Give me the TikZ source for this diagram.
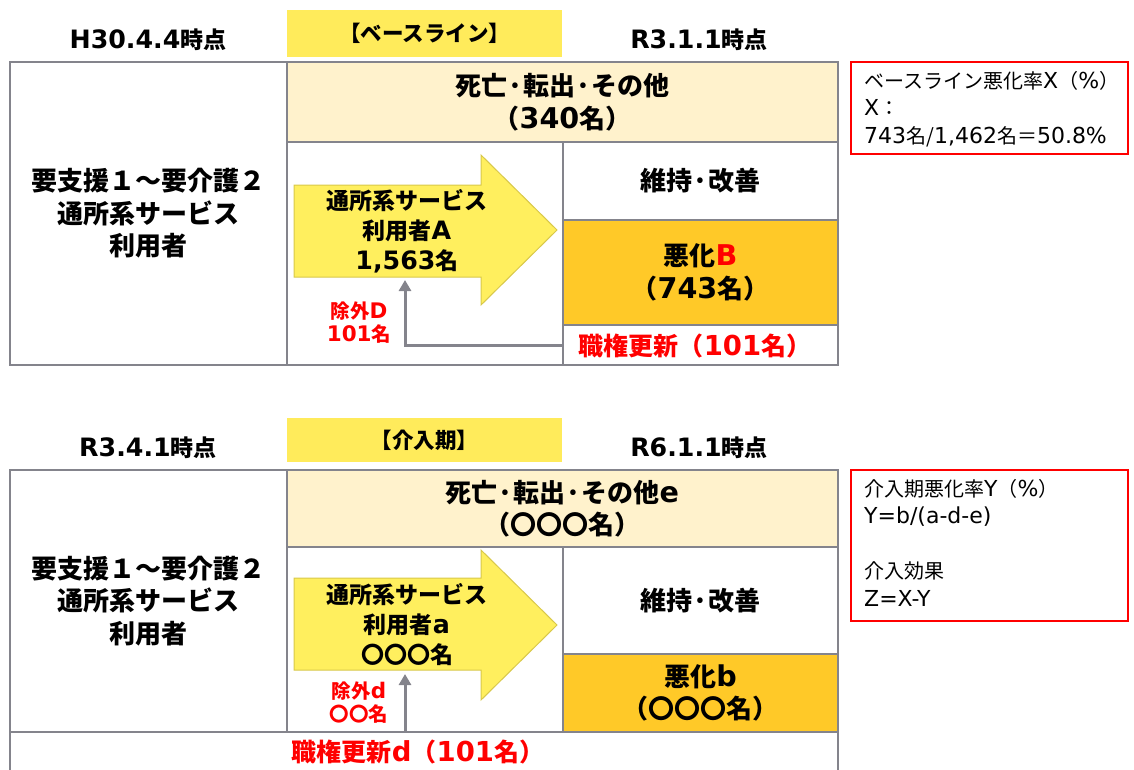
\documentclass[tikz,border=0pt]{standalone}
\usepackage{fontspec}
\setmainfont{Noto Sans CJK JP}
\newfontfamily\latfont{DejaVu Sans}[Scale=1.1]
\newcommand\Ltn[1]{{\latfont #1}}
\usetikzlibrary{arrows.meta}
\definecolor{bgray}{HTML}{84848C}
\definecolor{lblY}{HTML}{FFEB5B}
\definecolor{arrY}{HTML}{FFEF5E}
\definecolor{arrE}{HTML}{D8C84A}
\definecolor{beige}{HTML}{FFF2CC}
\definecolor{orng}{HTML}{FFC928}
\definecolor{rd}{HTML}{FF0000}
\begin{document}
\begin{tikzpicture}[x=1pt,y=-1pt,
  box/.style={draw=bgray, line width=2.6pt, anchor=north west, inner sep=0pt, outer sep=0pt, align=center, font=\bfseries\fontsize{26}{32.5}\selectfont},
  lbl/.style={fill=lblY, anchor=north west, inner sep=0pt, align=center, font=\bfseries\fontsize{21.5}{24}\selectfont},
  hd/.style={font=\bfseries\fontsize{23}{26}\selectfont, inner sep=0pt},
  arrtxt/.style={align=center, inner sep=0pt, font=\bfseries\fontsize{23}{30}\selectfont},
  redtxt/.style={text=rd, align=center, inner sep=0pt, font=\bfseries\fontsize{19.5}{23}\selectfont},
  redbig/.style={text=rd, inner sep=0pt, font=\bfseries\fontsize{25}{28}\selectfont},
  note/.style={draw=rd, line width=2.4pt, anchor=north west, inner sep=0pt, outer sep=0pt},
  notetxt/.style={anchor=north west, align=left, inner sep=0pt, font=\fontsize{20}{27.5}\selectfont},
  bigarrow/.style={fill=arrY, draw=arrE, line width=1pt},
  garrow/.style={draw=bgray, line width=3pt, -{Triangle[length=11pt,width=12pt]}}]
\useasboundingbox (0,0) rectangle (1134,769);
\clip (0,0) rectangle (1134,769);
% ===== top =====
\node[lbl, minimum width=275, minimum height=47] (lbl1) at (287,10) {【ベースライン】};
\node[hd] (hd1a) at (148,40) {\Ltn{H30.4.4}時点};
\node[hd] (hd1b) at (699,40) {\Ltn{R3.1.1}時点};
\node[box, minimum width=277, minimum height=303] (left1) at (10,62) {要支援１～要介護２\\通所系サービス\\利用者};
\node[box, minimum width=276, minimum height=223] (mid1) at (287,142) {};
\node[box, fill=beige, minimum width=551, minimum height=80] (dead1) at (287,62) {死亡·転出·その他\\（\Ltn{340}名）};
\node[box, minimum width=275, minimum height=78] (keep1) at (563,142) {維持·改善};
\node[box, fill=orng, minimum width=275, minimum height=105] (worse1) at (563,220) {悪化\textcolor{rd}{\Ltn{B}}\\（\Ltn{743}名）};
\node[box, minimum width=275, minimum height=40] (auth1) at (563,325) {};
\node[redbig] (auth1t) at (695,346) {職権更新（\Ltn{101}名）};
\draw[bigarrow] (294,185) -- (481,185) -- (481,155) -- (557,230) -- (481,305) -- (481,277) -- (294,277) -- cycle;
\node[arrtxt] (a1) at (407,231) {通所系サービス\\利用者\Ltn{A}\\\Ltn{1,563}名};
\coordinate (g1e) at (405,280);
\draw[garrow] (auth1.west) -| (g1e);
\node[redtxt] (ex1) at (359,323) {除外\Ltn{D}\\\Ltn{101}名};
\node[note, minimum width=277, minimum height=92] (note1) at (851,62) {};
\node[notetxt] (note1t) at (864,71) {ベースライン悪化率\Ltn{X}（\Ltn{\%}）\\\Ltn{X}：\\\Ltn{743}名/\Ltn{1,462}名＝\Ltn{50.8\%}};
% ===== bottom =====
\node[lbl, minimum width=275, minimum height=44] (lbl2) at (287,418) {【介入期】};
\node[hd] (hd2a) at (148,448) {\Ltn{R3.4.1}時点};
\node[hd] (hd2b) at (699,448) {\Ltn{R6.1.1}時点};
\node[box, minimum width=277, minimum height=262] (left2) at (10,470) {要支援１～要介護２\\通所系サービス\\利用者};
\node[box, minimum width=276, minimum height=185] (mid2) at (287,547) {};
\node[box, fill=beige, minimum width=551, minimum height=77] (dead2) at (287,470) {死亡·転出·その他\Ltn{e}\\（〇〇〇名）};
\node[box, minimum width=275, minimum height=107] (keep2) at (563,547) {維持·改善};
\node[box, fill=orng, minimum width=275, minimum height=78] (worse2) at (563,654) {悪化\Ltn{b}\\（〇〇〇名）};
\node[box, minimum width=828, minimum height=80] (strip2) at (10,732) {};
\node[redbig] (auth2t) at (418,752) {職権更新\Ltn{d}（\Ltn{101}名）};
\draw[bigarrow] (294,578) -- (481,578) -- (481,550) -- (557,625) -- (481,700) -- (481,670) -- (294,670) -- cycle;
\node[arrtxt] (a2) at (407,625) {通所系サービス\\利用者\Ltn{a}\\〇〇〇名};
\coordinate (g2e) at (405,674);
\draw[garrow] (strip2.north -| g2e) -- (g2e);
\node[redtxt] (ex2) at (359,703) {除外\Ltn{d}\\〇〇名};
\node[note, minimum width=277, minimum height=151] (note2) at (851,470) {};
\node[notetxt] (note2t) at (864,479) {介入期悪化率\Ltn{Y}（\Ltn{\%}）\\\Ltn{Y=b/(a-d-e)}\\[27.5pt]介入効果\\\Ltn{Z=X-Y}};
\end{tikzpicture}
\end{document}
